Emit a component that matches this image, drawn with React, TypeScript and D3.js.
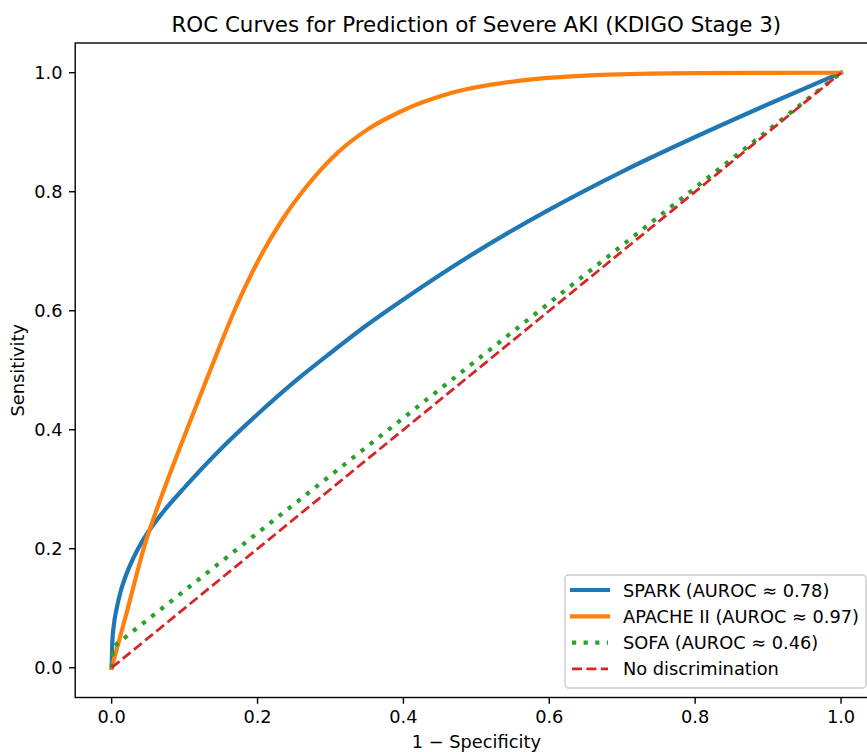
import React from 'react';
import * as d3 from 'd3';

// ROC points (false positive rate, true positive rate)
const sparkFpr = [0, 0.001, 0.003, 0.0069, 0.012, 0.018, 0.03, 0.0457, 0.07, 0.1, 0.15, 0.2, 0.25, 0.3, 0.35, 0.4, 0.5, 0.6, 0.7, 0.8, 0.9, 1];
const sparkTpr = [0, 0.046, 0.072, 0.1, 0.127, 0.15, 0.185, 0.22, 0.261, 0.303, 0.368, 0.426, 0.48, 0.529, 0.576, 0.619, 0.699, 0.77, 0.834, 0.892, 0.947, 1];

const apacheFpr = [0, 0.02, 0.045, 0.075, 0.107, 0.14, 0.17, 0.2, 0.235, 0.27, 0.31, 0.35, 0.4, 0.463, 0.555, 0.683, 0.8, 1];
const apacheTpr = [0, 0.09, 0.205, 0.31, 0.412, 0.515, 0.605, 0.682, 0.755, 0.813, 0.866, 0.904, 0.937, 0.965, 0.986, 0.997, 0.9995, 1];

const sofaFpr = [0, 0.002, 1];
const sofaTpr = [0, 0.035, 1];

const refFpr = [0, 1];
const refTpr = [0, 1];

const labels = [
  'SPARK (AUROC \u2248 0.78)',
  'APACHE II (AUROC \u2248 0.97)',
  'SOFA (AUROC \u2248 0.46)',
  'No discrimination',
];
const ticks = [0, 0.2, 0.4, 0.6, 0.8, 1.0];

const W = 867;
const H = 752;
const font = 'DejaVu Sans, sans-serif';

type Pt = [number, number];
const zip = (xs: number[], ys: number[]): Pt[] => xs.map((x, i) => [x, ys[i]]);

export default function App() {
  const left = 75.2, right = 877.5, top = 43, bottom = 697.5;
  const x = d3.scaleLinear().domain([-0.05, 1.05]).range([left, right]);
  const y = d3.scaleLinear().domain([-0.05, 1.05]).range([bottom, top]);

  const smooth = d3.line<Pt>().x(d => x(d[0])).y(d => y(d[1])).curve(d3.curveMonotoneX);
  const straight = d3.line<Pt>().x(d => x(d[0])).y(d => y(d[1]));

  const series = [
    { d: smooth(zip(sparkFpr, sparkTpr)), color: '#1f77b4', width: 4.2, dash: undefined },
    { d: smooth(zip(apacheFpr, apacheTpr)), color: '#ff7f0e', width: 4.2, dash: undefined },
    { d: straight(zip(sofaFpr, sofaTpr)), color: '#2ca02c', width: 4.2, dash: '4.2 7.4' },
    { d: straight(zip(refFpr, refTpr)), color: '#d62728', width: 2.8, dash: '10 4.4' },
  ];

  const fmt = d3.format('.1f');

  // legend box
  const lgX = 565, lgY = 575, lgW = 301, lgH = 113;
  const rowY = (i: number) => 590 + i * 26.3;

  return (
    <svg width={W} height={H} style={{ position: 'absolute', left: 0, top: 0, background: '#fff' }} fontFamily={font}>
      <defs>
        <clipPath id="plot">
          <rect x={left} y={top} width={right - left} height={bottom - top} />
        </clipPath>
      </defs>
      <rect width={W} height={H} fill="#fff" />

      <g clipPath="url(#plot)">
        {series.map((s, i) => (
          <path key={i} d={s.d || ''} fill="none" stroke={s.color} strokeWidth={s.width}
            strokeDasharray={s.dash} strokeLinejoin="round" strokeLinecap={s.dash ? 'butt' : 'square'} />
        ))}
      </g>

      {/* spines */}
      <rect x={left} y={top} width={right - left} height={bottom - top} fill="none" stroke="#000" strokeWidth={1.4} />

      {/* x axis */}
      {ticks.map(t => (
        <g key={'x' + t}>
          <line x1={x(t)} x2={x(t)} y1={bottom} y2={bottom + 6.2} stroke="#000" strokeWidth={1.4} />
          <text x={x(t)} y={723} textAnchor="middle" fontSize={17.8} fill="#000">{fmt(t)}</text>
        </g>
      ))}
      <text x={(left + right) / 2} y={748} textAnchor="middle" fontSize={17.8} fill="#000">1 {'\u2212'} Specificity</text>

      {/* y axis */}
      {ticks.map(t => (
        <g key={'y' + t}>
          <line x1={left - 6.2} x2={left} y1={y(t)} y2={y(t)} stroke="#000" strokeWidth={1.4} />
          <text x={62.5} y={y(t) + 6.4} textAnchor="end" fontSize={17.8} fill="#000">{fmt(t)}</text>
        </g>
      ))}
      <text transform={`translate(24,${(top + bottom) / 2}) rotate(-90)`} textAnchor="middle" fontSize={17.8} fill="#000">Sensitivity</text>

      {/* title */}
      <text x={(left + right) / 2} y={32} textAnchor="middle" fontSize={21.4} fill="#000">
        ROC Curves for Prediction of Severe AKI (KDIGO Stage 3)
      </text>

      {/* legend */}
      <rect x={lgX} y={lgY} width={lgW} height={lgH} rx={3.6} fill="#fff" fillOpacity={0.8} stroke="#cccccc" strokeWidth={1.4} />
      {series.map((s, i) => (
        <g key={'lg' + i}>
          <line x1={572} x2={608} y1={rowY(i)} y2={rowY(i)} stroke={s.color} strokeWidth={s.width}
            strokeDasharray={s.dash} strokeLinecap={s.dash ? 'butt' : 'square'} />
          <text x={623} y={rowY(i)} dominantBaseline="central" fontSize={17.8} fill="#000">{labels[i]}</text>
        </g>
      ))}
    </svg>
  );
}
